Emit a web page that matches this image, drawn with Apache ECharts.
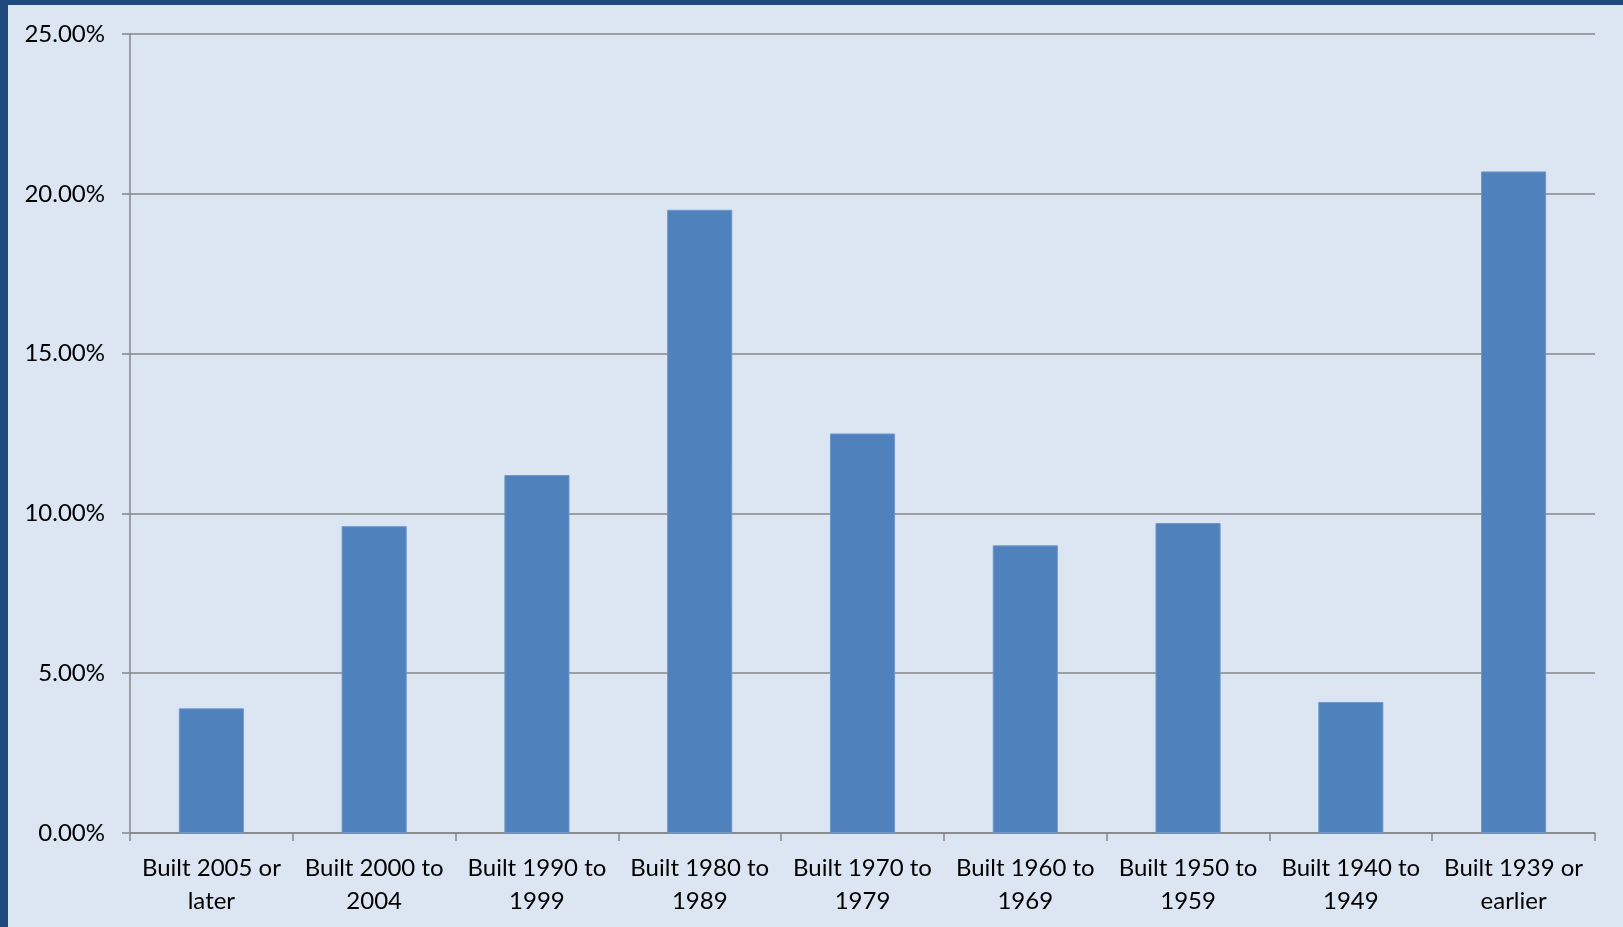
<!DOCTYPE html>
<html>
<head>
<meta charset="utf-8">
<script src="https://cdn.jsdelivr.net/npm/echarts@6/dist/echarts.min.js"></script>
<style>
  html, body { margin: 0; padding: 0; width: 1623px; height: 927px; overflow: hidden; background: #1F497D; }
  #chart { position: absolute; left: 8px; top: 5px; width: 1615px; height: 922px; background: #DCE6F2; }
</style>
</head>
<body>
<div id="chart"></div>
<script>
// Share of housing units by year structure built (percent)
const categories = [
  'Built 2005 or later',
  'Built 2000 to 2004',
  'Built 1990 to 1999',
  'Built 1980 to 1989',
  'Built 1970 to 1979',
  'Built 1960 to 1969',
  'Built 1950 to 1959',
  'Built 1940 to 1949',
  'Built 1939 or earlier'
];
const shares = [3.9, 9.6, 11.2, 19.5, 12.5, 9.0, 9.7, 4.1, 20.7];
const yTicks = [0, 5, 10, 15, 20, 25];

const fontFamily = 'Lato, "Open Sans", sans-serif';
const axisGray = '#878787';

const chart = echarts.init(document.getElementById('chart'), null, { renderer: 'canvas' });
chart.setOption({
  animation: false,
  backgroundColor: '#DCE6F2',
  grid: { left: 122, right: 28, top: 29, bottom: 94, outerBoundsMode: 'none' },
  xAxis: {
    type: 'category',
    data: categories,
    axisLine: { lineStyle: { color: axisGray, width: 1.5 } },
    axisTick: { show: true, length: 8, lineStyle: { color: axisGray, width: 1.5 } },
    axisLabel: {
      color: '#000',
      fontFamily: fontFamily,
      fontSize: 24,
      lineHeight: 33,
      margin: 19,
      interval: 0,
      formatter: function (v) {
        const i = v.lastIndexOf(' ');
        return v.slice(0, i) + '\n' + v.slice(i + 1);
      }
    }
  },
  yAxis: {
    type: 'value',
    min: yTicks[0],
    max: yTicks[yTicks.length - 1],
    interval: yTicks[1] - yTicks[0],
    axisLine: { show: true, lineStyle: { color: axisGray, width: 1.5 } },
    axisTick: { show: true, length: 8, lineStyle: { color: axisGray, width: 1.5 } },
    splitLine: { lineStyle: { color: axisGray, width: 1.5 } },
    axisLabel: {
      color: '#000',
      fontFamily: fontFamily,
      fontSize: 24,
      margin: 25,
      formatter: function (v) { return v.toFixed(2) + '%'; }
    }
  },
  series: [{
    type: 'bar',
    data: shares,
    barWidth: '40%',
    itemStyle: { color: '#4F81BD', borderColor: '#6f97c9', borderWidth: 1 }
  }]
});
</script>
</body>
</html>
